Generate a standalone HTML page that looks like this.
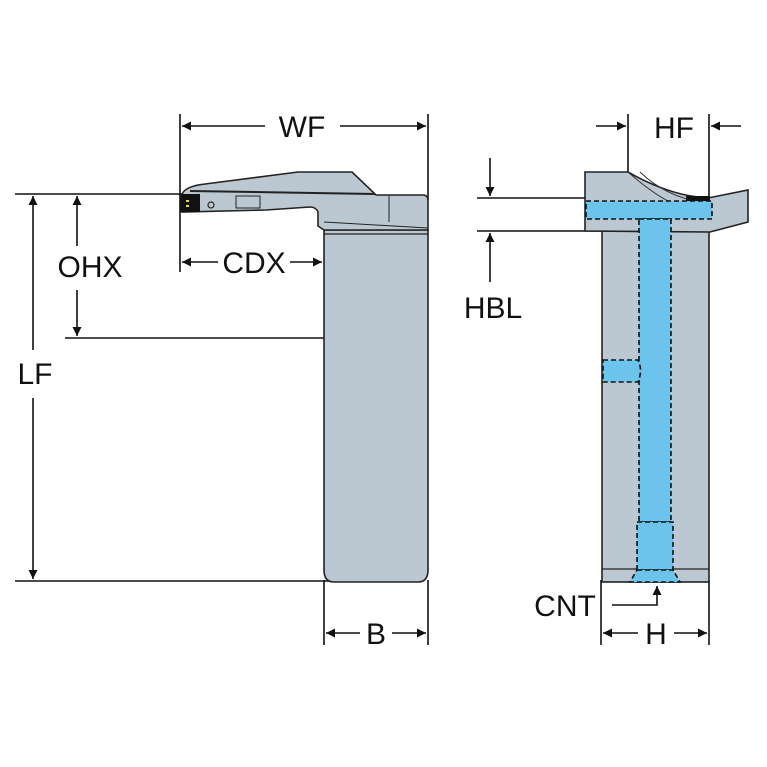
<!DOCTYPE html>
<html><head><style>
body{margin:0;background:#fff}
svg{display:block}
text{font-family:"Liberation Sans",sans-serif;font-size:30px;fill:#111;text-anchor:middle}
</style></head><body>
<svg width="767" height="767" viewBox="0 0 767 767" xmlns="http://www.w3.org/2000/svg">
<defs>
<marker id="a" viewBox="0 0 10 10" refX="10" refY="5" markerWidth="15" markerHeight="9" orient="auto-start-reverse" markerUnits="userSpaceOnUse"><path d="M0,0L10,5L0,10z" fill="#111"/></marker>
</defs>
<g stroke="#111" stroke-width="1.6" fill="none">
<line x1="180" y1="114" x2="180" y2="272"/>
<line x1="428" y1="114" x2="428" y2="200"/>
<line x1="15" y1="194" x2="182" y2="194"/>
<line x1="65" y1="338" x2="324" y2="338"/>
<line x1="15" y1="581" x2="330" y2="581"/>
<line x1="324" y1="580" x2="324" y2="645"/>
<line x1="428" y1="580" x2="428" y2="645"/>
<line x1="182" y1="126" x2="265" y2="126" marker-start="url(#a)"/>
<line x1="340" y1="126" x2="426" y2="126" marker-end="url(#a)"/>
<line x1="33" y1="196" x2="33" y2="350" marker-start="url(#a)"/>
<line x1="33" y1="398" x2="33" y2="579" marker-end="url(#a)"/>
<line x1="77" y1="196" x2="77" y2="246" marker-start="url(#a)"/>
<line x1="77" y1="290" x2="77" y2="336" marker-end="url(#a)"/>
<line x1="182" y1="262" x2="218" y2="262" marker-start="url(#a)"/>
<line x1="290" y1="262" x2="322" y2="262" marker-end="url(#a)"/>
<line x1="326" y1="633" x2="360" y2="633" marker-start="url(#a)"/>
<line x1="392" y1="633" x2="426" y2="633" marker-end="url(#a)"/>
</g>
<path d="M324,230 L428,230 L428,570 Q428,582 418,582 L334,582 Q324,582 324,570 Z" fill="#bcc8d1" stroke="#222" stroke-width="1.6"/>
<line x1="324" y1="234" x2="428" y2="234" stroke="#222" stroke-width="1.2"/>
<path d="M182,194 Q186,186 205,184 L298,172 L352,172 L376,195 L424,195 Q428,196 428,200 L428,230 L324,230 L318,226 L318,212 Q316,207 310,207 L266,210 L182,212 Z" fill="#bcc8d1" stroke="#222" stroke-width="1.6"/>
<line x1="190" y1="191" x2="375" y2="194" stroke="#222" stroke-width="2"/>
<line x1="389" y1="196" x2="389" y2="222" stroke="#222" stroke-width="1"/>
<line x1="324" y1="222" x2="428" y2="228" stroke="#222" stroke-width="1"/>
<rect x="180" y="194" width="20" height="18" fill="#111"/>
<rect x="186" y="200" width="3" height="2" fill="#dd4"/><rect x="186" y="205" width="3" height="2" fill="#dd4"/>
<circle cx="211" cy="205" r="3" fill="none" stroke="#222" stroke-width="1.2"/>
<rect x="236" y="196" width="24" height="12" fill="none" stroke="#222" stroke-width="1"/>
<g stroke="#111" stroke-width="1.6" fill="none">
<line x1="628" y1="114" x2="628" y2="172"/>
<line x1="709" y1="114" x2="709" y2="200"/>
<line x1="596" y1="126" x2="626" y2="126" marker-end="url(#a)"/>
<line x1="741" y1="126" x2="711" y2="126" marker-end="url(#a)"/>
<line x1="477" y1="198" x2="585" y2="198"/>
<line x1="477" y1="231" x2="602" y2="231"/>
<line x1="490" y1="158" x2="490" y2="196" marker-end="url(#a)"/>
<line x1="490" y1="282" x2="490" y2="233" marker-end="url(#a)"/>
<line x1="601" y1="580" x2="601" y2="645"/>
<line x1="709" y1="580" x2="709" y2="645"/>
<line x1="603" y1="633" x2="638" y2="633" marker-start="url(#a)"/>
<line x1="674" y1="633" x2="707" y2="633" marker-end="url(#a)"/>
<polyline points="612,605 657,605 657,586" marker-end="url(#a)"/>
</g>
<rect x="602" y="231" width="107" height="351" fill="#bcc8d1" stroke="#222" stroke-width="1.6"/>
<line x1="602" y1="569" x2="709" y2="569" stroke="#222" stroke-width="1.2"/>
<path d="M585,172 L628,172 Q670,196 708,198 L748,190 L748,222 L710,232 L585,231 Z" fill="#bcc8d1" stroke="#222" stroke-width="1.6"/>
<path d="M628,172 Q660,200 680,206 M640,172 Q665,196 700,202" stroke="#333" stroke-width="1" fill="none"/>
<rect x="686" y="196" width="24" height="12" fill="#111"/>
<g fill="#6cc3ec" stroke="#111" stroke-width="1.6" stroke-dasharray="5,3">
<rect x="586" y="201" width="126" height="18"/>
<rect x="639" y="219" width="32" height="303"/>
<path d="M603,360 L638,360 Q643,370 638,382 L603,382 Z"/>
<rect x="637" y="522" width="36" height="48"/>
<path d="M637,570 L673,570 L680,582 L630,582 Z"/>
</g>
<text x="302" y="137">WF</text>
<text x="90" y="277">OHX</text>
<text x="254" y="273">CDX</text>
<text x="35" y="384">LF</text>
<text x="376" y="644">B</text>
<text x="674" y="138">HF</text>
<text x="493" y="318">HBL</text>
<text x="565" y="616">CNT</text>
<text x="656" y="644">H</text>
</svg>
</body></html>
